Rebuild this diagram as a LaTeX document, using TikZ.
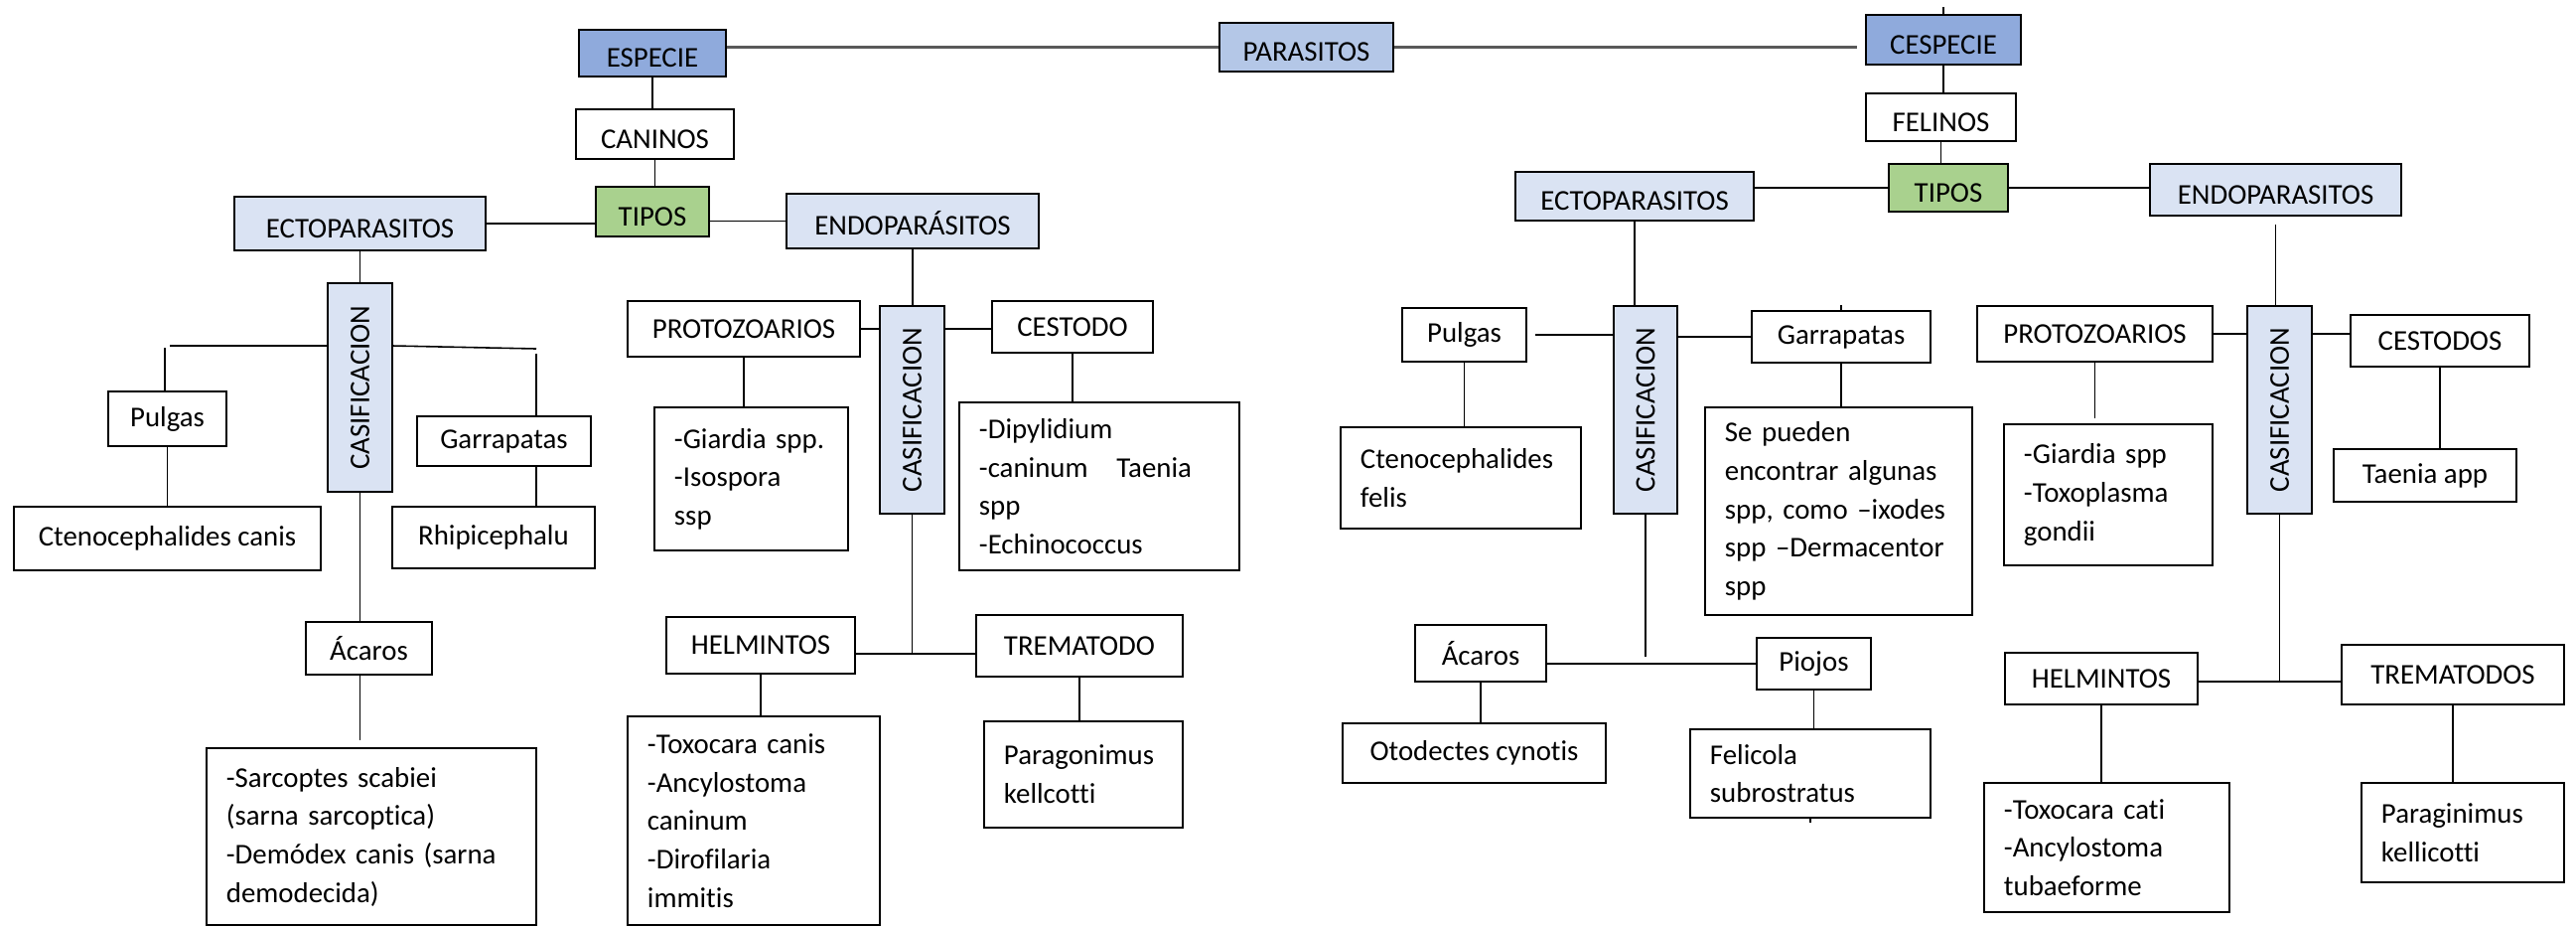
\documentclass[tikz,border=0pt]{standalone}
\usepackage{fontspec}
\setmainfont{Carlito}[Ligatures=NoCommon]
\usetikzlibrary{calc}
\definecolor{cA}{HTML}{8FAADC}
\definecolor{cB}{HTML}{B4C7E7}
\definecolor{cC}{HTML}{DAE3F3}
\definecolor{cG}{HTML}{A9D18E}
\definecolor{lnc}{HTML}{595959}
\begin{document}
\begin{tikzpicture}[x=0.01cm,y=-0.01cm,
 box/.style={draw=black, line width=0.5pt, rectangle, inner sep=0pt, font=\fontsize{8.2}{11}\selectfont},
 tbox/.style={box, line width=0.7pt, text height=8pt, text depth=0pt},
 mbox/.style={box, align=left, inner xsep=0.2cm},
 conn/.style={line width=0.45pt, draw=black},
 tconn/.style={line width=0.9pt, draw=lnc}]
\useasboundingbox (0,0) rectangle (2594,932);

% ---------- top row ----------
\node[tbox, fill=cA, minimum width=1.48cm, minimum height=0.47cm] (esp) at (657,53.5) {ESPECIE};
\node[tbox, fill=cB, minimum width=1.75cm, minimum height=0.49cm] (par) at (1315.5,47.5) {PARASITOS};
\node[tbox, fill=cA, minimum width=1.56cm, minimum height=0.50cm] (cesp) at (1957,40) {CESPECIE};
\node[tbox, fill=white, minimum width=1.59cm, minimum height=0.50cm] (can) at (659.5,135) {CANINOS};
\node[tbox, fill=cG, minimum width=1.14cm, minimum height=0.50cm] (tipL) at (657,213) {TIPOS};
\node[tbox, fill=cC, minimum width=2.53cm, minimum height=0.54cm] (ectoL) at (362.5,225) {ECTOPARASITOS};
\node[tbox, fill=cC, minimum width=2.54cm, minimum height=0.55cm] (endoL) at (919,222.5) {ENDOPARÁSITOS};
\node[tbox, fill=white, minimum width=1.51cm, minimum height=0.48cm] (fel) at (1954.5,118) {FELINOS};
\node[tbox, fill=cG, minimum width=1.20cm, minimum height=0.48cm] (tipR) at (1962,189) {TIPOS};
\node[tbox, fill=cC, minimum width=2.40cm, minimum height=0.49cm] (ectoR) at (1646,197.5) {ECTOPARASITOS};
\node[tbox, fill=cC, minimum width=2.53cm, minimum height=0.52cm] (endoR) at (2291.5,191) {ENDOPARASITOS};

% ---------- left ecto ----------
\node[box, fill=cC, minimum width=0.65cm, minimum height=2.10cm] (casA) at (362.5,390) {\rotatebox{90}{CASIFICACION}};
\node[box, minimum width=1.19cm, minimum height=0.55cm] (pulL) at (168.5,421.5) {Pulgas};
\node[box, minimum width=3.09cm, minimum height=0.64cm] (ctL) at (168.5,542) {Ctenocephalides canis};
\node[box, minimum width=1.75cm, minimum height=0.50cm] (garL) at (507.5,444) {Garrapatas};
\node[box, minimum width=2.04cm, minimum height=0.62cm] (rhip) at (497,541) {Rhipicephalu};
\node[box, minimum width=1.27cm, minimum height=0.53cm] (acL) at (371.5,652.5) {Ácaros};
\node[mbox, text width=2.92cm, minimum height=1.78cm] (sarc) at (374,842) {-Sarcoptes scabiei\\(sarna sarcoptica)\\-Demódex canis (sarna\\demodecida)};

% ---------- left endo ----------
\node[box, minimum width=2.34cm, minimum height=0.56cm] (protoL) at (749,331) {PROTOZOARIOS};
\node[box, fill=cC, minimum width=0.65cm, minimum height=2.09cm] (casB) at (918.5,412.5) {\rotatebox{90}{CASIFICACION}};
\node[box, minimum width=1.62cm, minimum height=0.52cm] (cestL) at (1080,329) {CESTODO};
\node[mbox, text width=1.55cm, minimum height=1.44cm] (giaL) at (756.5,482) {-Giardia spp.\\-Isospora\\ssp};
\node[mbox, text width=2.42cm, minimum height=1.69cm] (dipL) at (1107,489.5) {-Dipylidium\\-caninum\hspace{1em}Taenia\\spp\\-Echinococcus};
\node[box, minimum width=1.90cm, minimum height=0.57cm] (helmL) at (766,649.5) {HELMINTOS};
\node[box, minimum width=2.08cm, minimum height=0.62cm] (tremL) at (1087,650) {TREMATODO};
\node[mbox, text width=2.14cm, minimum height=2.10cm] (toxL) at (759,826) {-Toxocara canis\\-Ancylostoma\\caninum\\-Dirofilaria\\immitis};
\node[mbox, text width=1.60cm, minimum height=1.07cm] (parL) at (1091,779.5) {Paragonimus\\kellcotti};

% ---------- right ecto ----------
\node[box, fill=cC, minimum width=0.64cm, minimum height=2.09cm] (casC) at (1657,412.5) {\rotatebox{90}{CASIFICACION}};
\node[box, minimum width=1.25cm, minimum height=0.54cm] (pulR) at (1474.5,337) {Pulgas};
\node[box, minimum width=1.80cm, minimum height=0.52cm] (garR) at (1854,339) {Garrapatas};
\node[mbox, text width=2.02cm, minimum height=1.02cm] (ctR) at (1471,481) {Ctenocephalides\\felis};
\node[mbox, text width=2.29cm, minimum height=2.09cm] (seP) at (1851.5,514.5) {Se pueden\\encontrar algunas\\spp, como –ixodes\\spp –Dermacentor\\spp};
\node[box, minimum width=1.32cm, minimum height=0.57cm] (acR) at (1491,657.5) {Ácaros};
\node[box, minimum width=1.15cm, minimum height=0.52cm] (pioR) at (1826.5,668) {Piojos};
\node[box, minimum width=2.65cm, minimum height=0.60cm] (otoR) at (1484.5,758) {Otodectes cynotis};
\node[mbox, text width=2.02cm, minimum height=0.89cm] (felR) at (1823,778.5) {Felicola\\subrostratus};

% ---------- right endo ----------
\node[box, minimum width=2.37cm, minimum height=0.56cm] (protoR) at (2109.5,336) {PROTOZOARIOS};
\node[box, fill=cC, minimum width=0.65cm, minimum height=2.09cm] (casD) at (2295.5,412.5) {\rotatebox{90}{CASIFICACION}};
\node[box, minimum width=1.80cm, minimum height=0.52cm] (cestR) at (2457,343) {CESTODOS};
\node[box, minimum width=1.84cm, minimum height=0.53cm] (taeR) at (2442,478.5) {Taenia app};
\node[mbox, text width=1.70cm, minimum height=1.42cm] (giaR) at (2123,498) {-Giardia spp\\-Toxoplasma\\gondii};
\node[box, minimum width=1.94cm, minimum height=0.52cm] (helmR) at (2116,683) {HELMINTOS};
\node[box, minimum width=2.24cm, minimum height=0.60cm] (tremR) at (2470,679) {TREMATODOS};
\node[mbox, text width=2.07cm, minimum height=1.30cm] (toxR) at (2121.5,853) {-Toxocara cati\\-Ancylostoma\\tubaeforme};
\node[mbox, text width=1.64cm, minimum height=1.00cm] (paraR) at (2480,838) {Paraginimus\\kellicotti};

% ---------- connectors: top ----------
\draw[tconn] (esp.east |- par.west) -- (par.west);
\draw[tconn, shorten >=0.08cm] (par.east) -- (par.east -| cesp.west);
\draw[conn] (cesp.north) -- ++(0,-7);
\draw[conn] (esp.south) -- (esp.south |- can.north);
\draw[conn] (can.south) -- (can.south |- tipL.north);
\draw[conn] (ectoL.east) -- (ectoL.east -| tipL.west);
\draw[conn] (endoL.west -| tipL.east) -- (endoL.west);
\draw[conn] (ectoL.south) -- (casA.north);
\draw[conn] (endoL.south) -- (endoL.south |- casB.north);

% ---------- connectors: left ecto ----------
\coordinate (jA1) at (171,348);
\coordinate (jA2) at (166,350);
\coordinate (jA3) at (540,351);
\coordinate (jA4) at (540,356);
\draw[conn] (casA.west |- jA1) -- (jA1);
\draw[conn] (jA2) -- (jA2 |- pulL.north);
\draw[conn] (casA.east |- jA1) -- (jA3);
\draw[conn] (jA4) -- (jA4 |- garL.north);
\draw[conn] (pulL.south) -- (pulL.south |- ctL.north);
\draw[conn] (garL.south -| jA4) -- (jA4 |- rhip.north);
\draw[conn] (casA.south) -- (casA.south |- acL.north);
\draw[conn, shorten >=0.07cm] (casA.south |- acL.south) -- (casA.south |- sarc.north);

% ---------- connectors: left endo ----------
\draw[conn] (protoL.east) -- (protoL.east -| casB.west);
\draw[conn] (casB.east |- protoL.east) -- (cestL.west |- protoL.east);
\draw[conn] (protoL.south) -- (protoL.south |- giaL.north);
\draw[conn] (cestL.south) -- (cestL.south |- dipL.north);
\coordinate (jB) at (916,658);
\draw[conn] (casB.south) -- (casB.south |- jB);
\draw[conn] (helmL.east |- jB) -- (tremL.west |- jB);
\draw[conn] (helmL.south) -- (helmL.south |- toxL.north);
\draw[conn] (tremL.south) -- (tremL.south |- parL.north);

% ---------- connectors: right top ----------
\draw[conn] (cesp.south) -- (cesp.south |- fel.north);
\draw[conn] (fel.south) -- (fel.south |- tipR.north);
\draw[conn] (ectoR.east |- tipR.west) -- (tipR.west);
\draw[conn] (tipR.east) -- (tipR.east -| endoR.west);
\draw[conn] (ectoR.south) -- (ectoR.south |- casC.north);
\draw[conn] ($(endoR.south)+(0,8)$) -- (endoR.south |- casD.north);

% ---------- connectors: right ecto ----------
\draw[conn] ($(pulR.east)+(8,0)$) -- (pulR.east -| casC.west);
\draw[conn] (casC.east |- garR.west) -- (garR.west);
\draw[conn] (garR.north) -- ++(0,-5);
\draw[conn] (pulR.south) -- (pulR.south |- ctR.north);
\draw[conn] (garR.south) -- (garR.south |- seP.north);
\coordinate (jC) at (1657,661);
\draw[conn] (casC.south) -- (jC);
\draw[conn] (acR.east |- pioR.west) -- (pioR.west);
\draw[conn] (acR.south) -- (acR.south |- otoR.north);
\draw[conn] (pioR.south) -- (pioR.south |- felR.north);
\draw[conn] (felR.south) -- ++(0,4);

% ---------- connectors: right endo ----------
\draw[conn] (protoR.east) -- (protoR.east -| casD.west);
\draw[conn] (casD.east |- protoR.east) -- (cestR.west |- protoR.east);
\draw[conn, shorten >=0.05cm] (protoR.south) -- (protoR.south |- giaR.north);
\draw[conn] (cestR.south) -- (cestR.south |- taeR.north);
\coordinate (jD) at (2298,686);
\draw[conn] (casD.south) -- (casD.south |- jD);
\draw[conn] (helmR.east |- jD) -- (tremR.west |- jD);
\draw[conn] (helmR.south) -- (helmR.south |- toxR.north);
\draw[conn] (tremR.south) -- (tremR.south |- paraR.north);
\end{tikzpicture}
\end{document}
